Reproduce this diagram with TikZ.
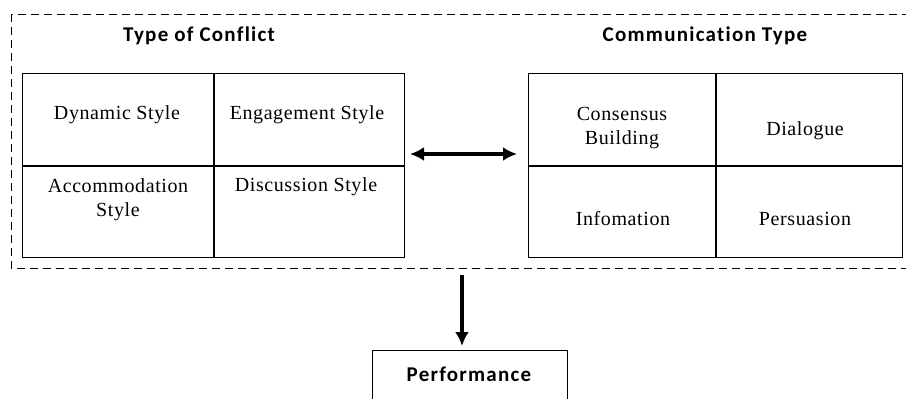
\documentclass[tikz,border=0pt]{standalone}
\usepackage{fontspec}
\setmainfont{Liberation Serif}
\newfontfamily\calibri{Carlito}[LetterSpace=6,Ligatures=NoCommon]
\usetikzlibrary{positioning,arrows.meta}

\begin{document}
\begin{tikzpicture}[x=1pt,y=-1pt,
  lcell/.style={draw, line width=1pt, minimum width=190.5pt, minimum height=91.5pt, inner sep=0pt, anchor=north west},
  rcell/.style={lcell, minimum width=186.5pt},
  celltxt/.style={font=\fontsize{20}{24}\selectfont\addfontfeature{LetterSpace=3}, align=center, inner sep=0pt},
  head/.style={font=\calibri\bfseries\fontsize{21}{24}\selectfont, inner sep=0pt},
  bigarrow/.style={line width=3.5pt, -{Latex[length=14pt,width=14pt]}}]
\useasboundingbox (0,0) rectangle (906,399);

% --- dashed frame
\draw[line width=1pt, dash pattern=on 8pt off 5pt] (11,14) rectangle (915,268);

% --- type of conflict
\node[head] (TOC) at (199,36) {Type of Conflict};
\node[lcell] (Dyn) at (22,73) {};
\node[lcell, right=0pt of Dyn] (Eng) {};
\node[lcell, below=0pt of Dyn] (Acc) {};
\node[lcell, below=0pt of Eng] (Dis) {};

\node[celltxt] (DynT) at (117,115) {Dynamic Style};
\node[celltxt] (EngT) at (307,115) {Engagement Style};
\node[celltxt] (AccT) at (118,200) {Accommodation\\Style};
\node[celltxt] (DisT) at (306,187) {Discussion Style};

% --- communication type
\node[head] (CT) at (705,36) {Communication Type};
\node[rcell] (Con) at (528,73) {};
\node[rcell, right=0pt of Con] (Dia) {};
\node[rcell, below=0pt of Con] (Inf) {};
\node[rcell, below=0pt of Dia] (Per) {};

\node[celltxt] (ConT) at (622,128) {Consensus\\Building};
\node[celltxt] (DiaT) at (805,131) {Dialogue};
\node[celltxt] (InfT) at (623,219) {Infomation};
\node[celltxt] (PerT) at (805,219) {Persuasion};

% --- arrows
\coordinate (ArrL) at (410,154);
\coordinate (ArrR) at (517,154);
\draw[bigarrow, {Latex[length=14pt,width=14pt]}-{Latex[length=14pt,width=14pt]}] (ArrL) -- (ArrR);

\coordinate (Down) at (462,275);
\coordinate (DownEnd) at (462,346);
\draw[bigarrow] (Down) -- (DownEnd);

% --- performance
\node[draw, line width=1pt, minimum width=195pt, minimum height=70pt, anchor=north west] (Perf) at (372,350) {};
\node[head] (PerfT) at (469,374) {Performance};

\end{tikzpicture}
\end{document}
